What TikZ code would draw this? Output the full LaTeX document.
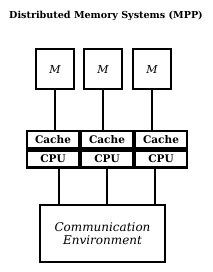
\documentclass[tikz,border=0pt]{standalone}
\usepackage{fontspec}
\setmainfont{DejaVu Serif}

\tikzset{
  membox/.style={draw, line width=2pt, minimum width=38pt, minimum height=40pt,
    font=\fontsize{11}{12}\selectfont\itshape},
  cellbox/.style={draw, line width=2.6pt, minimum width=52pt, minimum height=17pt,
    inner sep=0pt, font=\fontsize{10.5}{11}\selectfont\bfseries},
  wire/.style={line width=2pt}
}

\begin{document}
\begin{tikzpicture}[x=1pt, y=-1pt]

        \useasboundingbox (0,0) rectangle (213,272);

        % Title
        \node (title) at (106,16) {\fontsize{9.6}{11}\selectfont\bfseries Distributed Memory Systems (MPP)};

        % Memories
        \node[membox] (m1) at (55,69) {M};
        \node[membox] (m2) at (103,69) {M};
        \node[membox] (m3) at (152,69) {M};

        % Cache and CPU blocks
        \node[cellbox] (c1) at (53,139.5) {Cache};
        \node[cellbox, anchor=north] (u1) at (c1.south) {CPU};

        \node[cellbox] (c2) at (107,139.5) {Cache};
        \node[cellbox, anchor=north] (u2) at (c2.south) {CPU};

        \node[cellbox] (c3) at (161,139.5) {Cache};
        \node[cellbox, anchor=north] (u3) at (c3.south) {CPU};

        % Communication environment
        \node[draw, line width=2pt, minimum width=125pt, minimum height=57pt, align=center,
          font=\fontsize{12}{13}\selectfont\itshape] (comm) at (102.5,233.5)
          {Communication\\Environment};

        % Memory to cache
        \draw[wire] (m1.south) -- (m1.south |- c1.north);
        \draw[wire] (m2.south) -- (m2.south |- c2.north);
        \draw[wire] (m3.south) -- (m3.south |- c3.north);

        % CPU to communication environment
        \draw[wire] ([xshift=6pt]u1.south) -- ([xshift=6pt]u1.south |- comm.north);
        \draw[wire] (u2.south) -- (u2.south |- comm.north);
        \draw[wire] ([xshift=-6pt]u3.south) -- ([xshift=-6pt]u3.south |- comm.north);

    \end{tikzpicture}
\end{document}
